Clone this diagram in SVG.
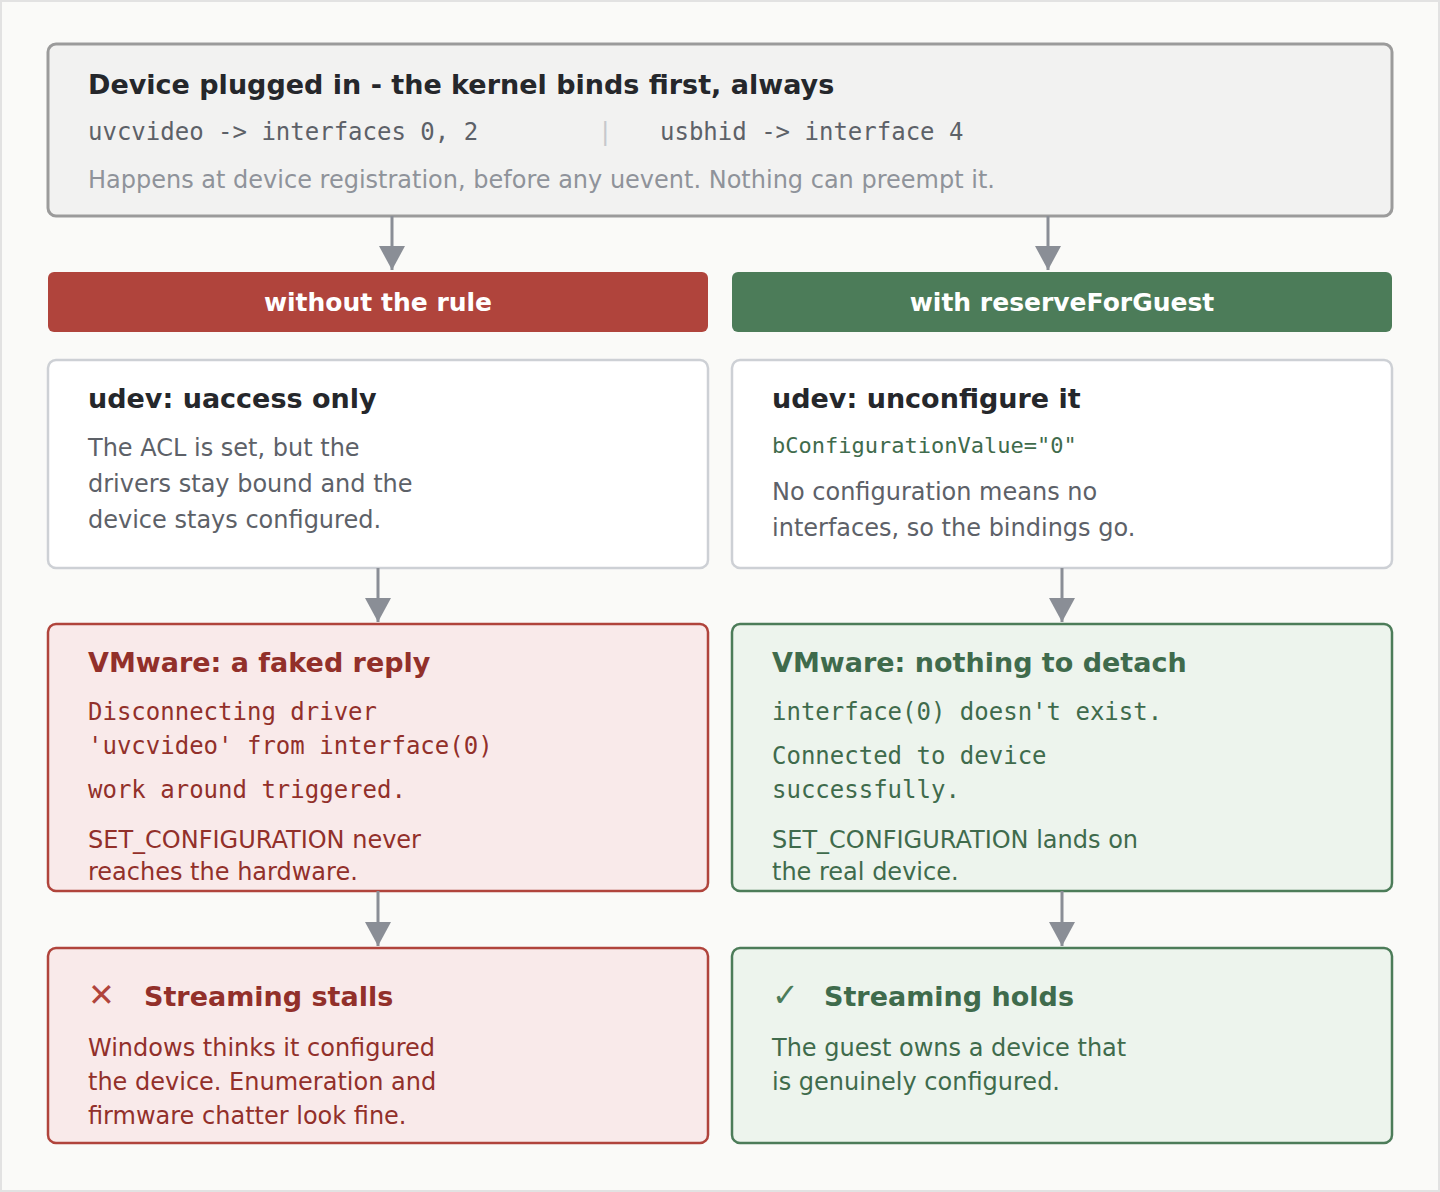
<svg xmlns="http://www.w3.org/2000/svg" width="1440" height="1192" viewBox="0 0 1440 1192">
<style>
text{font-family:"DejaVu Sans",sans-serif;font-size:24px}
.t{font-weight:bold;font-size:27px}
.m{font-family:"DejaVu Sans Mono",monospace;font-size:24px}
.ban{font-weight:bold;font-size:25px;fill:#fff}
.conn{stroke:#8a8e96;stroke-width:3;fill:none}
</style>
<defs><marker id="a" viewBox="0 0 10 10" refX="9" refY="5" markerWidth="8" markerHeight="8" markerUnits="userSpaceOnUse" orient="auto"><path d="M0,0L10,5L0,10z" fill="#8a8e96"/></marker>
<marker id="ah" viewBox="0 0 24 26" refX="24" refY="13" markerWidth="24" markerHeight="26" markerUnits="userSpaceOnUse" orient="auto"><path d="M0,0L24,13L0,26z" fill="#8a8e96"/></marker></defs>
<rect x="1" y="1" width="1438" height="1190" fill="#fafaf8" stroke="#e2e2e2" stroke-width="2"/>
<g id="top"><rect x="48" y="44" width="1344" height="172" rx="8" fill="#f2f2f1" stroke="#9b9b9b" stroke-width="3"/>
<text x="88" y="94" class="t" fill="#25272b">Device plugged in - the kernel binds first, always</text>
<text x="88" y="140" class="m" fill="#5d6168">uvcvideo -&gt; interfaces 0, 2</text>
<text x="598" y="140" class="m" fill="#c6c8cc">|</text>
<text x="660" y="140" class="m" fill="#5d6168">usbhid -&gt; interface 4</text>
<text x="88" y="188" fill="#8f939a">Happens at device registration, before any uevent. Nothing can preempt it.</text></g>
<g id="banL"><rect x="48" y="272" width="660" height="60" rx="6" fill="#b0443c"/><text x="378" y="311" text-anchor="middle" class="ban">without the rule</text></g>
<g id="banR"><rect x="732" y="272" width="660" height="60" rx="6" fill="#4c7c59"/><text x="1062" y="311" text-anchor="middle" class="ban">with reserveForGuest</text></g>
<g id="udevL"><rect x="48" y="360" width="660" height="208" rx="8" fill="#fff" stroke="#cdd0d5" stroke-width="2.5"/>
<text x="88" y="408" class="t" fill="#25272b">udev: uaccess only</text>
<text fill="#5d6168"><tspan x="88" y="456">The ACL is set, but the</tspan><tspan x="88" y="492">drivers stay bound and the</tspan><tspan x="88" y="528">device stays configured.</tspan></text></g>
<g id="udevR"><rect x="732" y="360" width="660" height="208" rx="8" fill="#fff" stroke="#cdd0d5" stroke-width="2.5"/>
<text x="772" y="408" class="t" fill="#25272b">udev: unconfigure it</text>
<text x="772" y="453" class="m" font-size="22" fill="#3f6b4c" style="font-size:22px">bConfigurationValue="0"</text>
<text fill="#5d6168"><tspan x="772" y="500">No configuration means no</tspan><tspan x="772" y="536">interfaces, so the bindings go.</tspan></text></g>
<g id="vmL"><rect x="48" y="624" width="660" height="267" rx="8" fill="#f9eaea" stroke="#b0443c" stroke-width="2.5"/>
<text x="88" y="672" class="t" fill="#92302a">VMware: a faked reply</text>
<text class="m" fill="#92302a"><tspan x="88" y="720">Disconnecting driver</tspan><tspan x="88" y="754">'uvcvideo' from interface(0)</tspan><tspan x="88" y="798">work around triggered.</tspan></text>
<text fill="#92302a"><tspan x="88" y="848">SET_CONFIGURATION never</tspan><tspan x="88" y="880">reaches the hardware.</tspan></text></g>
<g id="vmR"><rect x="732" y="624" width="660" height="267" rx="8" fill="#edf4ed" stroke="#4c7c59" stroke-width="2.5"/>
<text x="772" y="672" class="t" fill="#3f6b4c">VMware: nothing to detach</text>
<text class="m" fill="#3f6b4c"><tspan x="772" y="720">interface(0) doesn't exist.</tspan><tspan x="772" y="764">Connected to device</tspan><tspan x="772" y="798">successfully.</tspan></text>
<text fill="#3f6b4c"><tspan x="772" y="848">SET_CONFIGURATION lands on</tspan><tspan x="772" y="880">the real device.</tspan></text></g>
<g id="resL"><rect x="48" y="948" width="660" height="195" rx="8" fill="#f9eaea" stroke="#b0443c" stroke-width="2.5"/>
<text x="88" y="1006" class="t" fill="#b0443c" style="font-size:32px">✕</text>
<text x="144" y="1006" class="t" fill="#92302a">Streaming stalls</text>
<text fill="#92302a"><tspan x="88" y="1056">Windows thinks it configured</tspan><tspan x="88" y="1090">the device. Enumeration and</tspan><tspan x="88" y="1124">firmware chatter look fine.</tspan></text></g>
<g id="resR"><rect x="732" y="948" width="660" height="195" rx="8" fill="#edf4ed" stroke="#4c7c59" stroke-width="2.5"/>
<text x="772" y="1006" class="t" fill="#4c7c59" style="font-size:32px">✓</text>
<text x="824" y="1006" class="t" fill="#3f6b4c">Streaming holds</text>
<text fill="#3f6b4c"><tspan x="772" y="1056">The guest owns a device that</tspan><tspan x="772" y="1090">is genuinely configured.</tspan></text></g>
<g id="connectors" class="conn">
<path class="conn" d="M392 216V270" marker-end="url(#ah)"/>
<path class="conn" d="M1048 216V270" marker-end="url(#ah)"/>
<path class="conn" d="M378 568V622" marker-end="url(#ah)"/>
<path class="conn" d="M1062 568V622" marker-end="url(#ah)"/>
<path class="conn" d="M378 891V946" marker-end="url(#ah)"/>
<path class="conn" d="M1062 891V946" marker-end="url(#ah)"/>
</g>
</svg>
